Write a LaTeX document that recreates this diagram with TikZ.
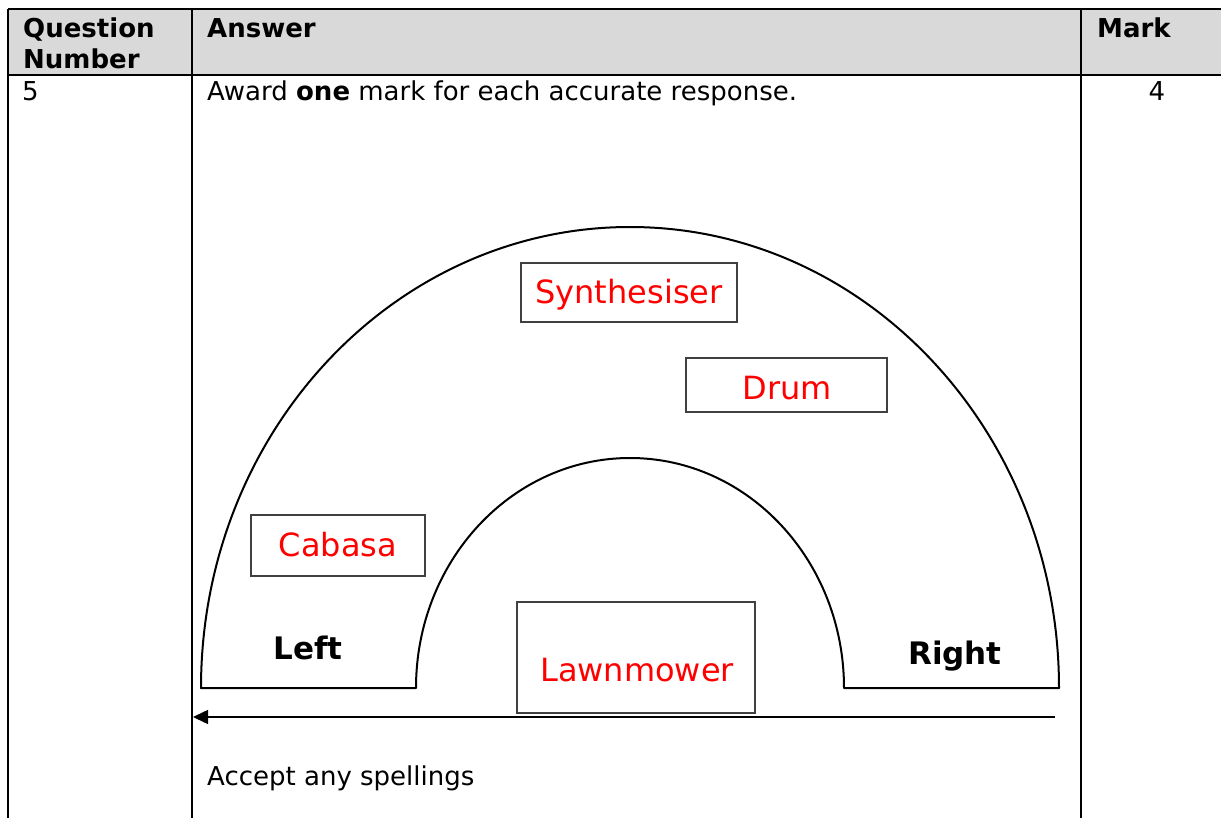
\documentclass[tikz,border=0pt]{standalone}
\usepackage{fontspec}
\setmainfont{DejaVu Sans}
\usetikzlibrary{arrows.meta}
\definecolor{hdrgray}{HTML}{D9D9D9}
\definecolor{boxgray}{HTML}{404040}
\tikzset{
  tline/.style={line width=2pt, black},
  hdr/.style={inner sep=0pt, anchor=base west, font=\fontsize{26}{30}\selectfont\bfseries},
  body/.style={inner sep=0pt, anchor=base west, font=\fontsize{26}{30}\selectfont},
  redlbl/.style={inner sep=0pt, anchor=base, text=red, font=\fontsize{32}{36}\selectfont},
  sidelbl/.style={inner sep=0pt, anchor=base, font=\fontsize{31}{36}\selectfont\bfseries},
  ansbox/.style={draw=boxgray, line width=1.2pt, inner sep=0pt, fill=white},
  stage/.style={line width=2pt, black},
}
\begin{document}
\begin{tikzpicture}[x=1pt,y=-1pt]
\useasboundingbox (0,0) rectangle (1221,818);
% header fill
\fill[hdrgray] (8,9) rectangle (1221,75);
% table lines
\draw[tline] (8,9) -- (1221,9);
\draw[tline] (8,75) -- (1221,75);
\draw[tline] (8,9) -- (8,818);
\draw[tline] (192,9) -- (192,818);
\draw[tline] (1081,9) -- (1081,818);
% header text
\node[hdr] (q1) at (23,38) {Question};
\node[hdr] (q2) at (23,69) {Number};
\node[hdr] (ans) at (207,38) {Answer};
\node[hdr] (mark) at (1097,38) {Mark};
% body text
\node[body] (num) at (22,101) {5};
\node[body] (award) at (207,101) {Award \textbf{one} mark for each accurate response.};
\node[body, anchor=base] (four) at (1157,101) {4};
\node[body] (accept) at (207,785) {Accept any spellings};
% stage shape
\draw[stage, line join=round] (201,688) arc[start angle=180, end angle=0, x radius=429, y radius=-461]
  -- (844,688) arc[start angle=0, end angle=180, x radius=214, y radius=-230] -- cycle;
% boxes
\node[ansbox, minimum width=216pt, minimum height=59pt] (synbox) at (629,292.5) {};
\node[redlbl] (syn) at (629,304) {Synthesiser};
\node[ansbox, minimum width=201pt, minimum height=54pt] (drumbox) at (786.5,385) {};
\node[redlbl] (drum) at (787,399) {Drum};
\node[ansbox, minimum width=174pt, minimum height=61pt] (cabbox) at (338,545.5) {};
\node[redlbl] (cab) at (338,556) {Cabasa};
\node[ansbox, minimum width=238pt, minimum height=111pt] (lawnbox) at (636,657.5) {};
\node[redlbl] (lawn) at (637,681) {Lawnmower};
% side labels
\node[sidelbl] (left) at (308,659) {Left};
\node[sidelbl] (right) at (955,664) {Right};
% arrow
\coordinate (astart) at (1055,717);
\coordinate (aend) at (193,717);
\draw[line width=1.5pt, -{Triangle[length=15pt,width=14pt]}] (astart) -- (aend);
\end{tikzpicture}
\end{document}
